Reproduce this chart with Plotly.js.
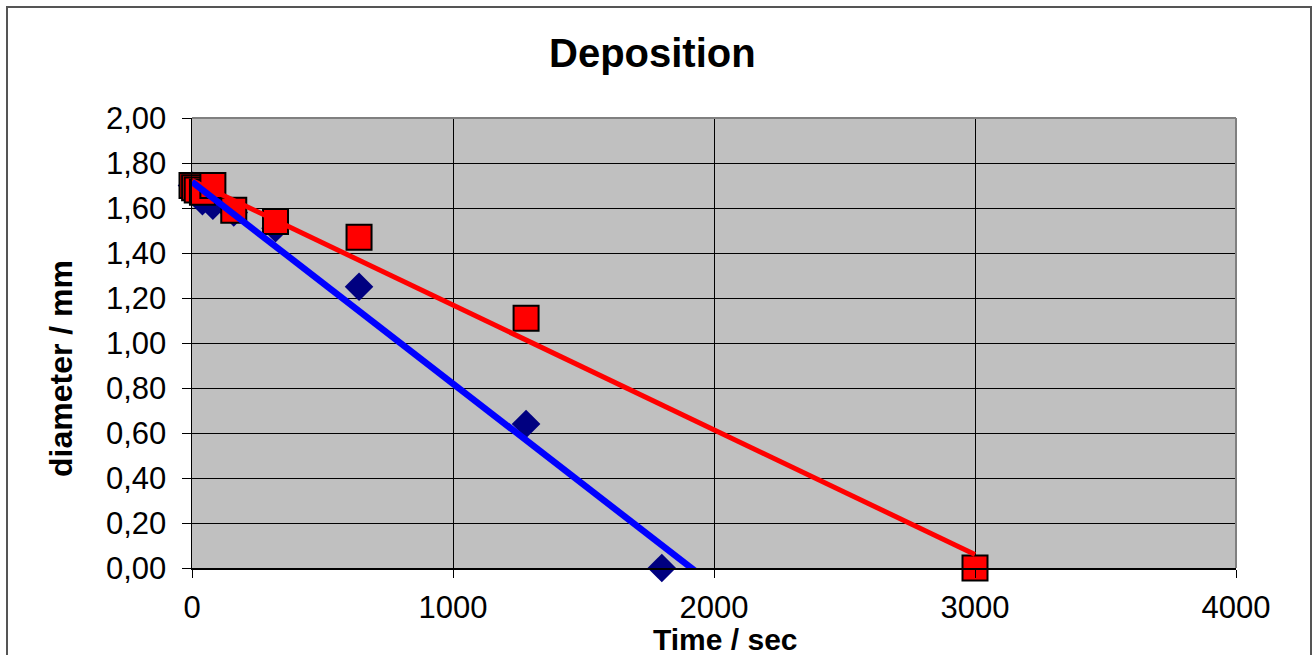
<!DOCTYPE html>
<html>
<head>
<meta charset="utf-8">
<script src="https://cdn.plot.ly/plotly-3.0.1.min.js"></script>
<style>
  html, body { margin: 0; padding: 0; background: #ffffff; }
  #chart { width: 1314px; height: 655px; }
</style>
</head>
<body>
<div id="chart"></div>
<script>
// ---- data ----
var redTime = [0, 10, 20, 40, 80, 160, 320, 640, 1280, 3000];
var redDiameter = [1.70, 1.69, 1.68, 1.67, 1.70, 1.59, 1.54, 1.47, 1.11, 0.00];
var blueTime = [0, 10, 20, 40, 80, 160, 320, 640, 1280, 1800];
var blueDiameter = [1.70, 1.68, 1.66, 1.63, 1.61, 1.58, 1.51, 1.25, 0.64, 0.00];
var redFitSpan = [0, 3000];
var blueFitSpan = [0, 2000];
var xTicks = [0, 1000, 2000, 3000, 4000];
var yTicks = [0, 0.2, 0.4, 0.6, 0.8, 1.0, 1.2, 1.4, 1.6, 1.8, 2.0];

// least-squares linear trendline
function linFit(xs, ys) {
  var n = xs.length, sx = 0, sy = 0, sxx = 0, sxy = 0;
  for (var i = 0; i < n; i++) { sx += xs[i]; sy += ys[i]; sxx += xs[i]*xs[i]; sxy += xs[i]*ys[i]; }
  var b = (n*sxy - sx*sy) / (n*sxx - sx*sx);
  var a = (sy - b*sx) / n;
  return function (x) { return a + b*x; };
}
var redF = linFit(redTime, redDiameter);
var blueF = linFit(blueTime, blueDiameter);

var W = 1314, H = 655;
var L = 192, R = 1314 - 1236, T = 118, B = 655 - 568;
var pw = W - L - R, ph = H - T - B;
function px2x(px) { return (px - L) / pw; }
function py2y(py) { return (H - B - py) / ph; }

var font = 'Liberation Sans, Arial, sans-serif';

var traces = [
  { x: blueTime, y: blueDiameter, type: 'scatter', mode: 'markers', cliponaxis: false,
    marker: { symbol: 'diamond', size: 22, color: '#000080', line: { width: 0 } },
    hoverinfo: 'x+y', showlegend: false },
  { x: redTime, y: redDiameter, type: 'scatter', mode: 'markers', cliponaxis: false,
    marker: { symbol: 'square', size: 25, color: '#ff0000', line: { width: 2, color: '#000000' } },
    hoverinfo: 'x+y', showlegend: false },
  { x: redFitSpan, y: redFitSpan.map(redF), type: 'scatter', mode: 'lines',
    line: { color: '#ff0000', width: 5 }, hoverinfo: 'skip', showlegend: false },
  { x: blueFitSpan, y: blueFitSpan.map(blueF), type: 'scatter', mode: 'lines',
    line: { color: '#0000ff', width: 6.5 }, hoverinfo: 'skip', showlegend: false }
];

var layout = {
  width: W, height: H,
  margin: { l: L, r: R, t: T, b: B, pad: 0 },
  paper_bgcolor: '#ffffff',
  plot_bgcolor: '#c0c0c0',
  separators: ',.',
  font: { family: font, color: '#000000' },
  showlegend: false,
  xaxis: {
    range: [0, 4000], tickmode: 'array', tickvals: xTicks,
    ticks: 'outside', ticklen: 8, tickwidth: 1, tickcolor: '#000000',
    ticklabelstandoff: 3,
    showgrid: true, gridcolor: '#000000', gridwidth: 1,
    zeroline: false, showline: true, linecolor: '#000000', linewidth: 1.5,
    tickfont: { family: font, size: 31, color: '#000000' }, fixedrange: true
  },
  yaxis: {
    range: [0, 2], tickmode: 'array', tickvals: yTicks, tickformat: '.2f',
    ticks: 'outside', ticklen: 9, tickwidth: 1, tickcolor: '#000000',
    ticklabelstandoff: 9,
    showgrid: true, gridcolor: '#000000', gridwidth: 1,
    zeroline: false, showline: true, linecolor: '#000000', linewidth: 1.5,
    tickfont: { family: font, size: 31, color: '#000000' }, fixedrange: true
  },
  shapes: [
    { type: 'rect', xref: 'paper', yref: 'paper', layer: 'below',
      x0: px2x(7), x1: px2x(1311), y0: py2y(662), y1: py2y(7),
      line: { color: '#555555', width: 2 }, fillcolor: 'rgba(0,0,0,0)' },
    { type: 'line', xref: 'paper', yref: 'paper', layer: 'above',
      x0: 0, x1: 1, y0: 1, y1: 1, line: { color: '#808080', width: 2 } },
    { type: 'line', xref: 'paper', yref: 'paper', layer: 'above',
      x0: 1, x1: 1, y0: 0, y1: 1, line: { color: '#808080', width: 2 } }
  ],
  annotations: [
    { text: '<b>Deposition</b>', xref: 'paper', yref: 'paper',
      x: px2x(652), y: py2y(53), xanchor: 'center', yanchor: 'middle',
      showarrow: false, font: { family: font, size: 40, color: '#000000' } },
    { text: '<b>Time / sec</b>', xref: 'paper', yref: 'paper',
      x: px2x(725), y: py2y(639), xanchor: 'center', yanchor: 'middle',
      showarrow: false, font: { family: font, size: 30, color: '#000000' } },
    { text: '<b>diameter / mm</b>', xref: 'paper', yref: 'paper', textangle: -90,
      x: px2x(61), y: py2y(369), xanchor: 'center', yanchor: 'middle',
      showarrow: false, font: { family: font, size: 32, color: '#000000' } }
  ]
};

Plotly.newPlot('chart', traces, layout, { displayModeBar: false, staticPlot: true });
</script>
</body>
</html>
